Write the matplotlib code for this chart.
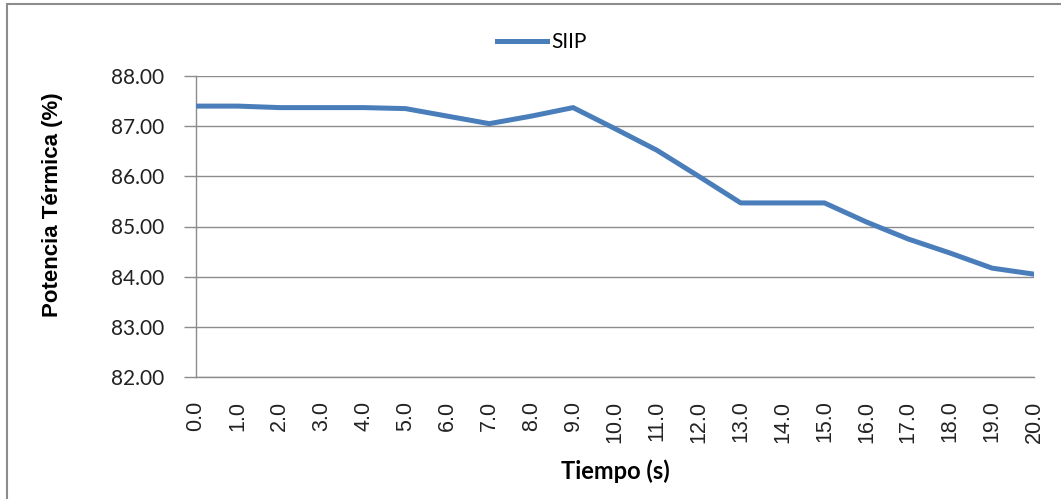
import matplotlib
matplotlib.use("Agg")
import matplotlib.pyplot as plt
from matplotlib.patches import Rectangle

tiempo = [0, 1, 2, 3, 4, 5, 6, 7, 8, 9, 10, 11, 12, 13, 14, 15, 16, 17, 18, 19, 20]
siip = [87.40, 87.40, 87.37, 87.37, 87.37, 87.35, 87.20, 87.05, 87.20, 87.37,
        86.95, 86.52, 86.00, 85.47, 85.47, 85.47, 85.09, 84.75, 84.47, 84.17, 84.05]
x_labels = [f"{t:.1f}" for t in tiempo]
y_ticks = [82, 83, 84, 85, 86, 87, 88]

W, H = 1061, 499
fig = plt.figure(figsize=(W / 100, H / 100), dpi=100)
ax = fig.add_axes([196 / W, 1 - 377 / H, (1034 - 196) / W, (377 - 76) / H])

# borde exterior del gráfico (recortado a la derecha/abajo)
fig.patches.append(Rectangle((7 / W, -0.1), 1.2, 1 - 4 / H + 0.1,
                             transform=fig.transFigure, fill=False,
                             edgecolor="#8c8c8c", linewidth=1.5))

ax.plot(tiempo, siip, color="#4a7ebb", linewidth=3.6, label="SIIP",
        solid_joinstyle="round", zorder=3)

ax.set_xlim(0, 20)
ax.set_ylim(82, 88)
ax.set_yticks(y_ticks)
ax.set_yticklabels([f"{v:.2f}" for v in y_ticks], fontfamily="Lato", fontsize=15,
                   color="#222222")
ax.set_xticks(tiempo)
ax.set_xticklabels(x_labels, rotation=90, fontfamily="Liberation Sans",
                   fontsize=15.5, color="#222222")
ax.tick_params(axis="x", length=0, pad=17)
ax.tick_params(axis="y", length=9, width=1, color="#8c8c8c", pad=14)

ax.grid(axis="y", color="#8c8c8c", linewidth=1)
for s in ["top", "right"]:
    ax.spines[s].set_visible(False)
for s in ["left", "bottom"]:
    ax.spines[s].set_color("#8c8c8c")
    ax.spines[s].set_linewidth(1)

ax.set_xlabel("Tiempo (s)", fontfamily="Lato", fontweight="bold", fontsize=17,
              va="top")
ax.xaxis.set_label_coords(615 / W, 1 - 459 / H, transform=fig.transFigure)
ax.set_ylabel("Potencia Térmica (%)", fontfamily="Liberation Sans",
              fontweight="bold", fontsize=16)
ax.yaxis.set_label_coords(63 / W, 1 - 205 / H, transform=fig.transFigure)

ax.legend(loc="center", bbox_to_anchor=(542 / W, 1 - 42 / H),
          bbox_transform=fig.transFigure, frameon=False,
          prop={"family": "Lato", "size": 15}, handlelength=2.4,
          handletextpad=0.2)

fig.savefig("out.png", dpi=100)
